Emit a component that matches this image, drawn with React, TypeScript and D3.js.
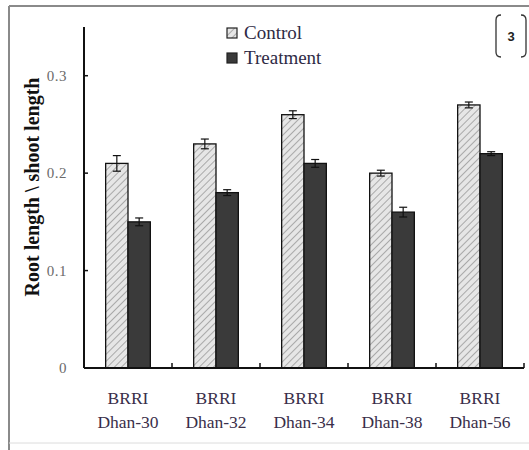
import React from 'react';
import * as d3 from 'd3';

const varieties = ['Dhan-30', 'Dhan-32', 'Dhan-34', 'Dhan-38', 'Dhan-56'];
const series = ['Control', 'Treatment'];
const control = [0.21, 0.23, 0.26, 0.2, 0.27];
const controlErr = [0.008, 0.005, 0.004, 0.003, 0.003];
const treatment = [0.15, 0.18, 0.21, 0.16, 0.22];
const treatmentErr = [0.004, 0.003, 0.004, 0.005, 0.002];
const yTicks = [0, 0.1, 0.2, 0.3];

const W = 529;
const H = 450;
const margin = { top: 27, right: 5, bottom: 82, left: 84 };
const serif = "'Liberation Serif', 'DejaVu Serif', serif";

const App = () => {
  const innerH = H - margin.top - margin.bottom;
  const x0 = d3.scaleBand().domain(varieties).range([margin.left, 524]).paddingInner(0).paddingOuter(0);
  const x1 = d3.scaleBand().domain(series).range([0, x0.bandwidth()]).paddingOuter(0.97).paddingInner(0);
  const y = d3.scaleLinear().domain([0, 0.35]).range([margin.top + innerH, margin.top]);

  const vals = [control, treatment];
  const errs = [controlErr, treatmentErr];
  const fills = ['url(#hatch)', '#3a3a3a'];
  const y0 = y(0);

  return (
    <svg width={W} height={H} style={{ position: 'absolute', left: 0, top: 0, background: '#fff' }}>
      <defs>
        <pattern id="hatch" patternUnits="userSpaceOnUse" width="5" height="5" patternTransform="rotate(45)">
          <rect width="5" height="5" fill="#e6e6e6" />
          <line x1="0" y1="0" x2="0" y2="5" stroke="#9a9a9a" strokeWidth="1.6" />
        </pattern>
      </defs>

      {/* outer frame */}
      <line x1={9} y1={6} x2={529} y2={6} stroke="#8a8a8a" strokeWidth={2} />
      <line x1={9} y1={6} x2={9} y2={450} stroke="#8a8a8a" strokeWidth={2} />
      <line x1={9} y1={443} x2={529} y2={443} stroke="#dcdcdc" strokeWidth={1} />

      {/* panel label */}
      <path d="M501,15 Q496,15 496,20 L496,52 Q496,57 501,57" fill="none" stroke="#333" strokeWidth={1.3} />
      <path d="M521,15 Q526,15 526,20 L526,52 Q526,57 521,57" fill="none" stroke="#333" strokeWidth={1.3} />
      <text x={511} y={41} textAnchor="middle" fontFamily="'Liberation Sans', sans-serif" fontWeight="bold" fontSize={13} fill="#222">3</text>

      {/* bars */}
      {series.map((s, si) =>
        varieties.map((v, i) => {
          const bx = (x0(v) as number) + (x1(s) as number);
          const bw = x1.bandwidth();
          const top = y(vals[si][i]);
          const cx = bx + bw / 2;
          const eTop = y(vals[si][i] + errs[si][i]);
          const eBot = y(vals[si][i] - errs[si][i]);
          return (
            <g key={s + v}>
              <rect x={bx} y={top} width={bw} height={y0 - top} fill={fills[si]} stroke="#111" strokeWidth={1.3} />
              <line x1={cx} x2={cx} y1={eTop} y2={eBot} stroke="#111" strokeWidth={1.2} />
              <line x1={cx - 4} x2={cx + 4} y1={eTop} y2={eTop} stroke="#111" strokeWidth={1.2} />
              <line x1={cx - 4} x2={cx + 4} y1={eBot} y2={eBot} stroke="#111" strokeWidth={1.2} />
            </g>
          );
        })
      )}

      {/* y axis */}
      <line x1={margin.left} x2={margin.left} y1={margin.top} y2={y0} stroke="#111" strokeWidth={2} />
      {yTicks.map(t => (
        <g key={t}>
          <line x1={margin.left} x2={margin.left + 4} y1={y(t)} y2={y(t)} stroke="#111" strokeWidth={1.5} />
          <text x={67} y={y(t) + 5} textAnchor="end" fontFamily={serif} fontSize={15} letterSpacing={0.5} fill="#6a6a6a">
            {t === 0 ? '0' : t.toFixed(1)}
          </text>
        </g>
      ))}
      <text
        transform={`translate(39,187) rotate(-90)`}
        textAnchor="middle"
        fontFamily={serif}
        fontWeight="bold"
        fontSize={20}
        fill="#111"
      >
        Root length \ shoot length
      </text>

      {/* x axis */}
      <line x1={margin.left} x2={524} y1={y0} y2={y0} stroke="#111" strokeWidth={2} />
      {varieties.map(v => {
        const right = (x0(v) as number) + x0.bandwidth();
        const c = (x0(v) as number) + x0.bandwidth() / 2;
        return (
          <g key={v}>
            <line x1={right} x2={right} y1={y0} y2={y0 - 5} stroke="#111" strokeWidth={1.5} />
            <text x={c} y={404} textAnchor="middle" fontFamily={serif} fontSize={17.5} fill="#3a2f4a">BRRI</text>
            <text x={c} y={428} textAnchor="middle" fontFamily={serif} fontSize={17.5} fill="#3a2f4a">{v}</text>
          </g>
        );
      })}

      {/* legend */}
      {series.map((s, si) => (
        <g key={s} transform={`translate(227,${28 + si * 25})`}>
          <rect x={0} y={0} width={10} height={10} fill={fills[si]} stroke="#222" strokeWidth={1.2} />
          <text x={17} y={11} fontFamily={serif} fontSize={19} fill="#2e2a45">{s}</text>
        </g>
      ))}
    </svg>
  );
};

export default App;
